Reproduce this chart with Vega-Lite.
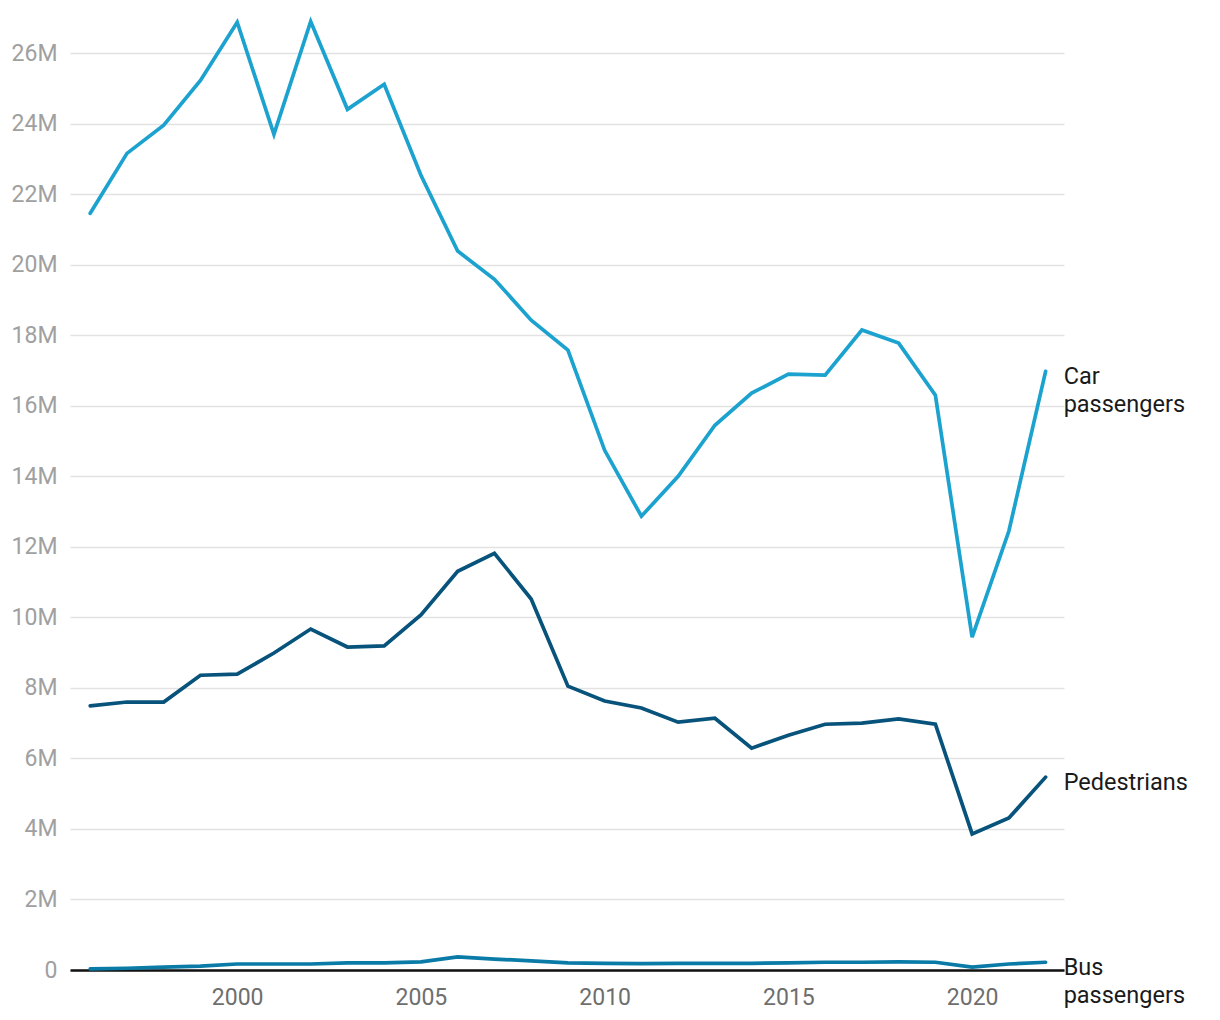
{
  "$schema": "https://vega.github.io/schema/vega-lite/v6.json",
  "width": 994,
  "height": 952,
  "autosize": {"type": "none"},
  "padding": {"left": 70, "top": 18, "right": 156, "bottom": 50},
  "background": "white",
  "config": {"view": {"stroke": null}, "font": "Roboto"},
  "data": {"values": [
    {"year": 1996, "series": "Car passengers", "value": 21.46},
    {"year": 1997, "series": "Car passengers", "value": 23.16},
    {"year": 1998, "series": "Car passengers", "value": 23.96},
    {"year": 1999, "series": "Car passengers", "value": 25.23},
    {"year": 2000, "series": "Car passengers", "value": 26.88},
    {"year": 2001, "series": "Car passengers", "value": 23.70},
    {"year": 2002, "series": "Car passengers", "value": 26.90},
    {"year": 2003, "series": "Car passengers", "value": 24.41},
    {"year": 2004, "series": "Car passengers", "value": 25.12},
    {"year": 2005, "series": "Car passengers", "value": 22.54},
    {"year": 2006, "series": "Car passengers", "value": 20.39},
    {"year": 2007, "series": "Car passengers", "value": 19.59},
    {"year": 2008, "series": "Car passengers", "value": 18.43},
    {"year": 2009, "series": "Car passengers", "value": 17.58},
    {"year": 2010, "series": "Car passengers", "value": 14.74},
    {"year": 2011, "series": "Car passengers", "value": 12.87},
    {"year": 2012, "series": "Car passengers", "value": 14.00},
    {"year": 2013, "series": "Car passengers", "value": 15.45},
    {"year": 2014, "series": "Car passengers", "value": 16.36},
    {"year": 2015, "series": "Car passengers", "value": 16.90},
    {"year": 2016, "series": "Car passengers", "value": 16.87},
    {"year": 2017, "series": "Car passengers", "value": 18.15},
    {"year": 2018, "series": "Car passengers", "value": 17.78},
    {"year": 2019, "series": "Car passengers", "value": 16.30},
    {"year": 2020, "series": "Car passengers", "value": 9.44},
    {"year": 2021, "series": "Car passengers", "value": 12.45},
    {"year": 2022, "series": "Car passengers", "value": 16.98},
    {"year": 1996, "series": "Pedestrians", "value": 7.49},
    {"year": 1997, "series": "Pedestrians", "value": 7.60},
    {"year": 1998, "series": "Pedestrians", "value": 7.60},
    {"year": 1999, "series": "Pedestrians", "value": 8.36},
    {"year": 2000, "series": "Pedestrians", "value": 8.39},
    {"year": 2001, "series": "Pedestrians", "value": 8.99},
    {"year": 2002, "series": "Pedestrians", "value": 9.67},
    {"year": 2003, "series": "Pedestrians", "value": 9.16},
    {"year": 2004, "series": "Pedestrians", "value": 9.19},
    {"year": 2005, "series": "Pedestrians", "value": 10.07},
    {"year": 2006, "series": "Pedestrians", "value": 11.31},
    {"year": 2007, "series": "Pedestrians", "value": 11.82},
    {"year": 2008, "series": "Pedestrians", "value": 10.52},
    {"year": 2009, "series": "Pedestrians", "value": 8.05},
    {"year": 2010, "series": "Pedestrians", "value": 7.63},
    {"year": 2011, "series": "Pedestrians", "value": 7.43},
    {"year": 2012, "series": "Pedestrians", "value": 7.03},
    {"year": 2013, "series": "Pedestrians", "value": 7.14},
    {"year": 2014, "series": "Pedestrians", "value": 6.29},
    {"year": 2015, "series": "Pedestrians", "value": 6.66},
    {"year": 2016, "series": "Pedestrians", "value": 6.97},
    {"year": 2017, "series": "Pedestrians", "value": 7.00},
    {"year": 2018, "series": "Pedestrians", "value": 7.12},
    {"year": 2019, "series": "Pedestrians", "value": 6.97},
    {"year": 2020, "series": "Pedestrians", "value": 3.86},
    {"year": 2021, "series": "Pedestrians", "value": 4.31},
    {"year": 2022, "series": "Pedestrians", "value": 5.47},
    {"year": 1996, "series": "Bus passengers", "value": 0.03},
    {"year": 1997, "series": "Bus passengers", "value": 0.05},
    {"year": 1998, "series": "Bus passengers", "value": 0.08},
    {"year": 1999, "series": "Bus passengers", "value": 0.11},
    {"year": 2000, "series": "Bus passengers", "value": 0.17},
    {"year": 2001, "series": "Bus passengers", "value": 0.17},
    {"year": 2002, "series": "Bus passengers", "value": 0.17},
    {"year": 2003, "series": "Bus passengers", "value": 0.20},
    {"year": 2004, "series": "Bus passengers", "value": 0.20},
    {"year": 2005, "series": "Bus passengers", "value": 0.23},
    {"year": 2006, "series": "Bus passengers", "value": 0.37},
    {"year": 2007, "series": "Bus passengers", "value": 0.31},
    {"year": 2008, "series": "Bus passengers", "value": 0.26},
    {"year": 2009, "series": "Bus passengers", "value": 0.20},
    {"year": 2010, "series": "Bus passengers", "value": 0.19},
    {"year": 2011, "series": "Bus passengers", "value": 0.18},
    {"year": 2012, "series": "Bus passengers", "value": 0.19},
    {"year": 2013, "series": "Bus passengers", "value": 0.19},
    {"year": 2014, "series": "Bus passengers", "value": 0.19},
    {"year": 2015, "series": "Bus passengers", "value": 0.20},
    {"year": 2016, "series": "Bus passengers", "value": 0.22},
    {"year": 2017, "series": "Bus passengers", "value": 0.22},
    {"year": 2018, "series": "Bus passengers", "value": 0.23},
    {"year": 2019, "series": "Bus passengers", "value": 0.22},
    {"year": 2020, "series": "Bus passengers", "value": 0.08},
    {"year": 2021, "series": "Bus passengers", "value": 0.17},
    {"year": 2022, "series": "Bus passengers", "value": 0.22}
  ]},
  "encoding": {
    "x": {
      "field": "year", "type": "quantitative",
      "scale": {"domain": [1995.45, 2022.5], "nice": false, "zero": false},
      "axis": {
        "title": null, "values": [2000, 2005, 2010, 2015, 2020], "format": "d",
        "grid": false, "ticks": false, "domain": true, "domainColor": "#111111", "domainWidth": 2.5,
        "labelFont": "Roboto", "labelFontSize": 23, "labelColor": "#6e6e6e", "labelPadding": 16
      }
    },
    "y": {
      "field": "value", "type": "quantitative",
      "scale": {"domain": [0, 27], "nice": false},
      "axis": {
        "title": null, "values": [0, 2, 4, 6, 8, 10, 12, 14, 16, 18, 20, 22, 24, 26],
        "labelExpr": "datum.value == 0 ? '0' : datum.value + 'M'",
        "grid": true, "gridColor": "#e2e2e2", "gridWidth": 1.5,
        "ticks": false, "domain": false,
        "labelFont": "Roboto", "labelFontSize": 23, "labelColor": "#a0a0a0", "labelPadding": 13
      }
    },
    "color": {
      "field": "series", "type": "nominal", "legend": null,
      "scale": {"domain": ["Car passengers", "Pedestrians", "Bus passengers"], "range": ["#1ba2cf", "#07537b", "#0a7ba6"]}
    }
  },
  "layer": [
    {"mark": {"type": "line", "strokeWidth": 3.7, "strokeJoin": "miter", "strokeCap": "round"}},
    {
      "transform": [
        {"filter": "datum.year == 2022"},
        {"calculate": "datum.series == 'Pedestrians' ? 'Pedestrians' : split(datum.series, ' ')", "as": "label"}
      ],
      "mark": {"type": "text", "align": "left", "baseline": "alphabetic", "dx": 18, "dy": 13, "font": "Roboto", "fontSize": 23.5, "lineHeight": 28, "color": "#1a1a1a"},
      "encoding": {"text": {"field": "label"}, "color": {"value": "#1a1a1a"}}
    }
  ]
}
